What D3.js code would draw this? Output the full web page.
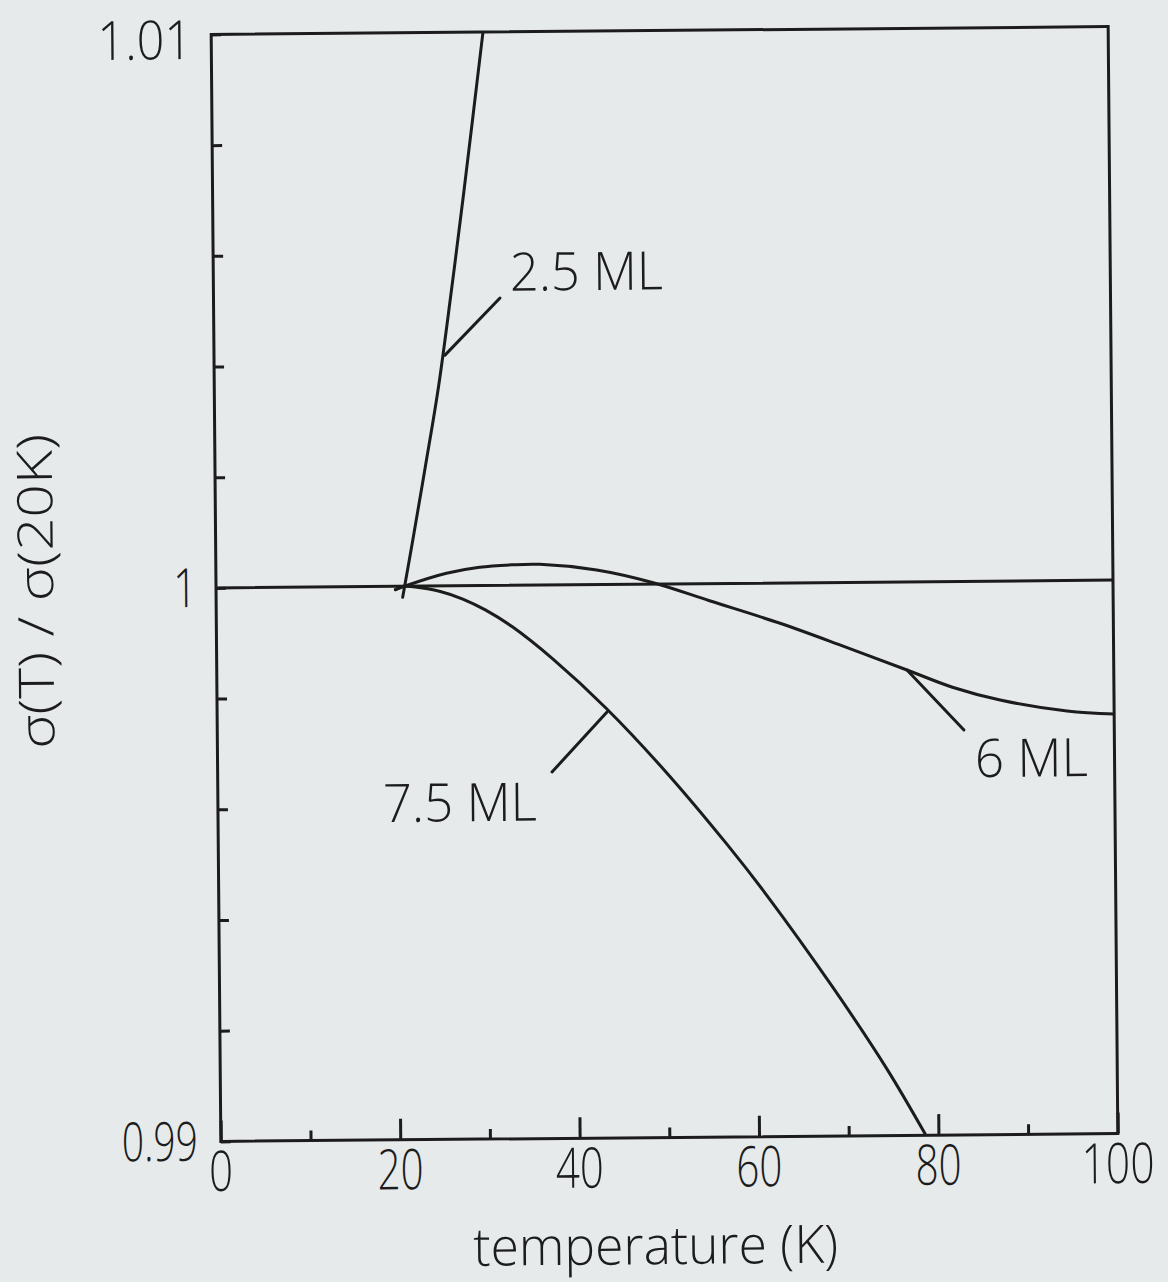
<!DOCTYPE html>
<html>
<head>
<meta charset="utf-8">
<script src="https://cdn.jsdelivr.net/npm/d3@7"></script>
<style>
  html, body { margin: 0; padding: 0; background: #e6eaea; }
  svg { display: block; }
  text { font-family: "Open Sans", "DejaVu Sans", sans-serif; font-weight: 300; fill: #1c1c1c; }
</style>
</head>
<body>
<svg id="chart" width="1168" height="1282"></svg>
<script>
// ---- data --------------------------------------------------------------
const xDomain = [0, 100];                 // temperature (K)
const yDomain = [0.99, 1.01];             // sigma(T) / sigma(20K)

const xTickValues  = [0, 10, 20, 30, 40, 50, 60, 70, 80, 90, 100];
const xMajorTicks  = [0, 20, 40, 60, 80, 100];
const xTickLabels  = ["0", "20", "40", "60", "80", "100"];

const yTickValues  = [0.99, 0.992, 0.994, 0.996, 0.998, 1.0, 1.002, 1.004, 1.006, 1.008, 1.01];
const yLabelValues = [0.99, 1.0, 1.01];
const yTickLabels  = ["0.99", "1", "1.01"];

// normalisation reference, sigma(T)/sigma(20K) = 1
const referenceLine = [[0, 1.0], [100, 1.0]];

// 2.5 monolayers
const film25 = [
  [20.8, 0.99980], [22.0, 1.00085], [23.5, 1.00220], [25.0, 1.00360],
  [26.5, 1.00530], [28.0, 1.00710], [30.3, 1.01000]
];

// 6 monolayers
const film6 = [
  [20.0, 0.99994], [21.0, 1.00000], [25.7, 1.000228], [29.4, 1.000331],
  [33.0, 1.000370], [36.1, 1.000376], [42.45, 1.000264], [48.75, 1.000025],
  [55.0, 0.999690], [62.84, 0.999272], [70.0, 0.998840], [76.95, 0.998408],
  [82.0, 0.998090], [87.3, 0.997851], [94.75, 0.997642], [100.0, 0.997580]
];

// 7.5 monolayers
const film75 = [
  [20.0, 0.99994], [21.0, 1.00000], [22.0, 0.99999], [25.0, 0.99990],
  [27.5, 0.99976], [30.0, 0.99956], [33.0, 0.99925], [37.5, 0.99866],
  [43.4, 0.99776], [50.0, 0.99660], [56.7, 0.99529], [61.1, 0.99436],
  [68.4, 0.99268], [74.3, 0.99121], [78.5, 0.99003]
];

// curve labels: point on the curve, end of the leader line, text start (baseline)
const curveLabels = [
  { text: "2.5 ML", width: 153, onCurve: [25.75, 1.00417], leaderEnd: [31.94, 1.005193], at: [33.07, 1.005324] },
  { text: "6 ML",   width: 113, onCurve: [76.95, 0.998408], leaderEnd: [83.24, 0.997315], at: [84.42, 0.996464] },
  { text: "7.5 ML", width: 154, onCurve: [43.47, 0.997696], leaderEnd: [37.28, 0.996622], at: [18.38, 0.995745] }
];

// ---- layout ------------------------------------------------------------
const W = 1168, H = 1282;
const plot = { left: 216, top: 30.5, width: 897, height: 1107 };
const ink = "#1c1c1c";

const svg = d3.select("#chart");
svg.append("rect").attr("width", W).attr("height", H).attr("fill", "#e6eaea");

// the whole sheet sits very slightly tilted
const root = svg.append("g").attr("transform", "rotate(-0.5 664.5 584)");

const x = d3.scaleLinear().domain(xDomain).range([plot.left, plot.left + plot.width]);
const y = d3.scaleLinear().domain(yDomain).range([plot.top + plot.height, plot.top]);

root.append("clipPath").attr("id", "plot-clip")
  .append("rect")
  .attr("x", plot.left).attr("y", plot.top)
  .attr("width", plot.width).attr("height", plot.height);

// narrow plotter-style lettering: squeeze each string horizontally to a set width
function fitText(parent, { text, x0, y0, size, width, anchor = "start", rotate = 0 }) {
  const t = parent.append("text")
    .attr("font-size", size)
    .attr("text-anchor", anchor)
    .text(text);
  const natural = t.node().getComputedTextLength() || width;
  const sx = width / natural;
  t.attr("transform",
    `translate(${x0},${y0})` + (rotate ? ` rotate(${rotate})` : "") + ` scale(${sx},1)`);
  return t;
}

// ---- axes (ticks point inward) ------------------------------------------
const xAxisMinor = d3.axisTop(x).tickValues(xTickValues.filter(v => !xMajorTicks.includes(v)))
  .tickSize(10).tickFormat("");
const xAxisMajor = d3.axisTop(x).tickValues(xMajorTicks).tickSize(21).tickFormat("");
const yAxisTicks = d3.axisRight(y).tickValues(yTickValues).tickSize(10).tickFormat("");

[xAxisMinor, xAxisMajor].forEach(ax => {
  const g = root.append("g")
    .attr("transform", `translate(0,${plot.top + plot.height})`)
    .call(ax);
  g.select(".domain").remove();
  g.selectAll("line").attr("stroke", ink).attr("stroke-width", 3);
});

const gy = root.append("g").attr("transform", `translate(${plot.left},0)`).call(yAxisTicks);
gy.select(".domain").remove();
gy.selectAll("line").attr("stroke", ink).attr("stroke-width", 3);

// tick labels
const xLabelWidths = { "0": 24, "20": 46, "40": 48, "60": 46, "80": 46, "100": 73 };
const gxl = root.append("g");
xMajorTicks.forEach((v, i) => {
  fitText(gxl, { text: xTickLabels[i], x0: x(v), y0: 1187, size: 56,
                 width: xLabelWidths[xTickLabels[i]], anchor: "middle" });
});

const yLabelWidths = { "0.99": 76, "1": 24, "1.01": 95 };
const gyl = root.append("g");
yLabelValues.forEach((v, i) => {
  fitText(gyl, { text: yTickLabels[i], x0: i === 0 ? 193 : 197, y0: Math.max(y(v) + 19, 55),
                 size: 54, width: yLabelWidths[yTickLabels[i]], anchor: "end" });
});

// axis titles
fitText(root, { text: "temperature (K)", x0: 650, y0: 1264, size: 53, width: 365, anchor: "middle" });
fitText(root, { text: "σ(T) / σ(20K)", x0: 53, y0: 586, size: 49, width: 315, anchor: "middle", rotate: -90 });

// ---- curves ------------------------------------------------------------
const line = d3.line().x(d => x(d[0])).y(d => y(d[1])).curve(d3.curveCatmullRom.alpha(0.5));
const curves = root.append("g").attr("clip-path", "url(#plot-clip)");

[referenceLine, film25, film6, film75].forEach(series => {
  curves.append("path")
    .datum(series)
    .attr("d", line)
    .attr("fill", "none")
    .attr("stroke", ink)
    .attr("stroke-width", 3)
    .attr("stroke-linejoin", "round")
    .attr("stroke-linecap", "round");
});

// leader lines and curve labels
const labels = root.append("g");
curveLabels.forEach(c => {
  labels.append("line")
    .attr("x1", x(c.onCurve[0])).attr("y1", y(c.onCurve[1]))
    .attr("x2", x(c.leaderEnd[0])).attr("y2", y(c.leaderEnd[1]))
    .attr("stroke", ink).attr("stroke-width", 3).attr("stroke-linecap", "round");
  fitText(labels, { text: c.text, x0: x(c.at[0]), y0: y(c.at[1]), size: 53, width: c.width });
});

// plot frame
root.append("rect")
  .attr("x", plot.left).attr("y", plot.top)
  .attr("width", plot.width).attr("height", plot.height)
  .attr("fill", "none").attr("stroke", ink).attr("stroke-width", 3);
</script>
</body>
</html>
